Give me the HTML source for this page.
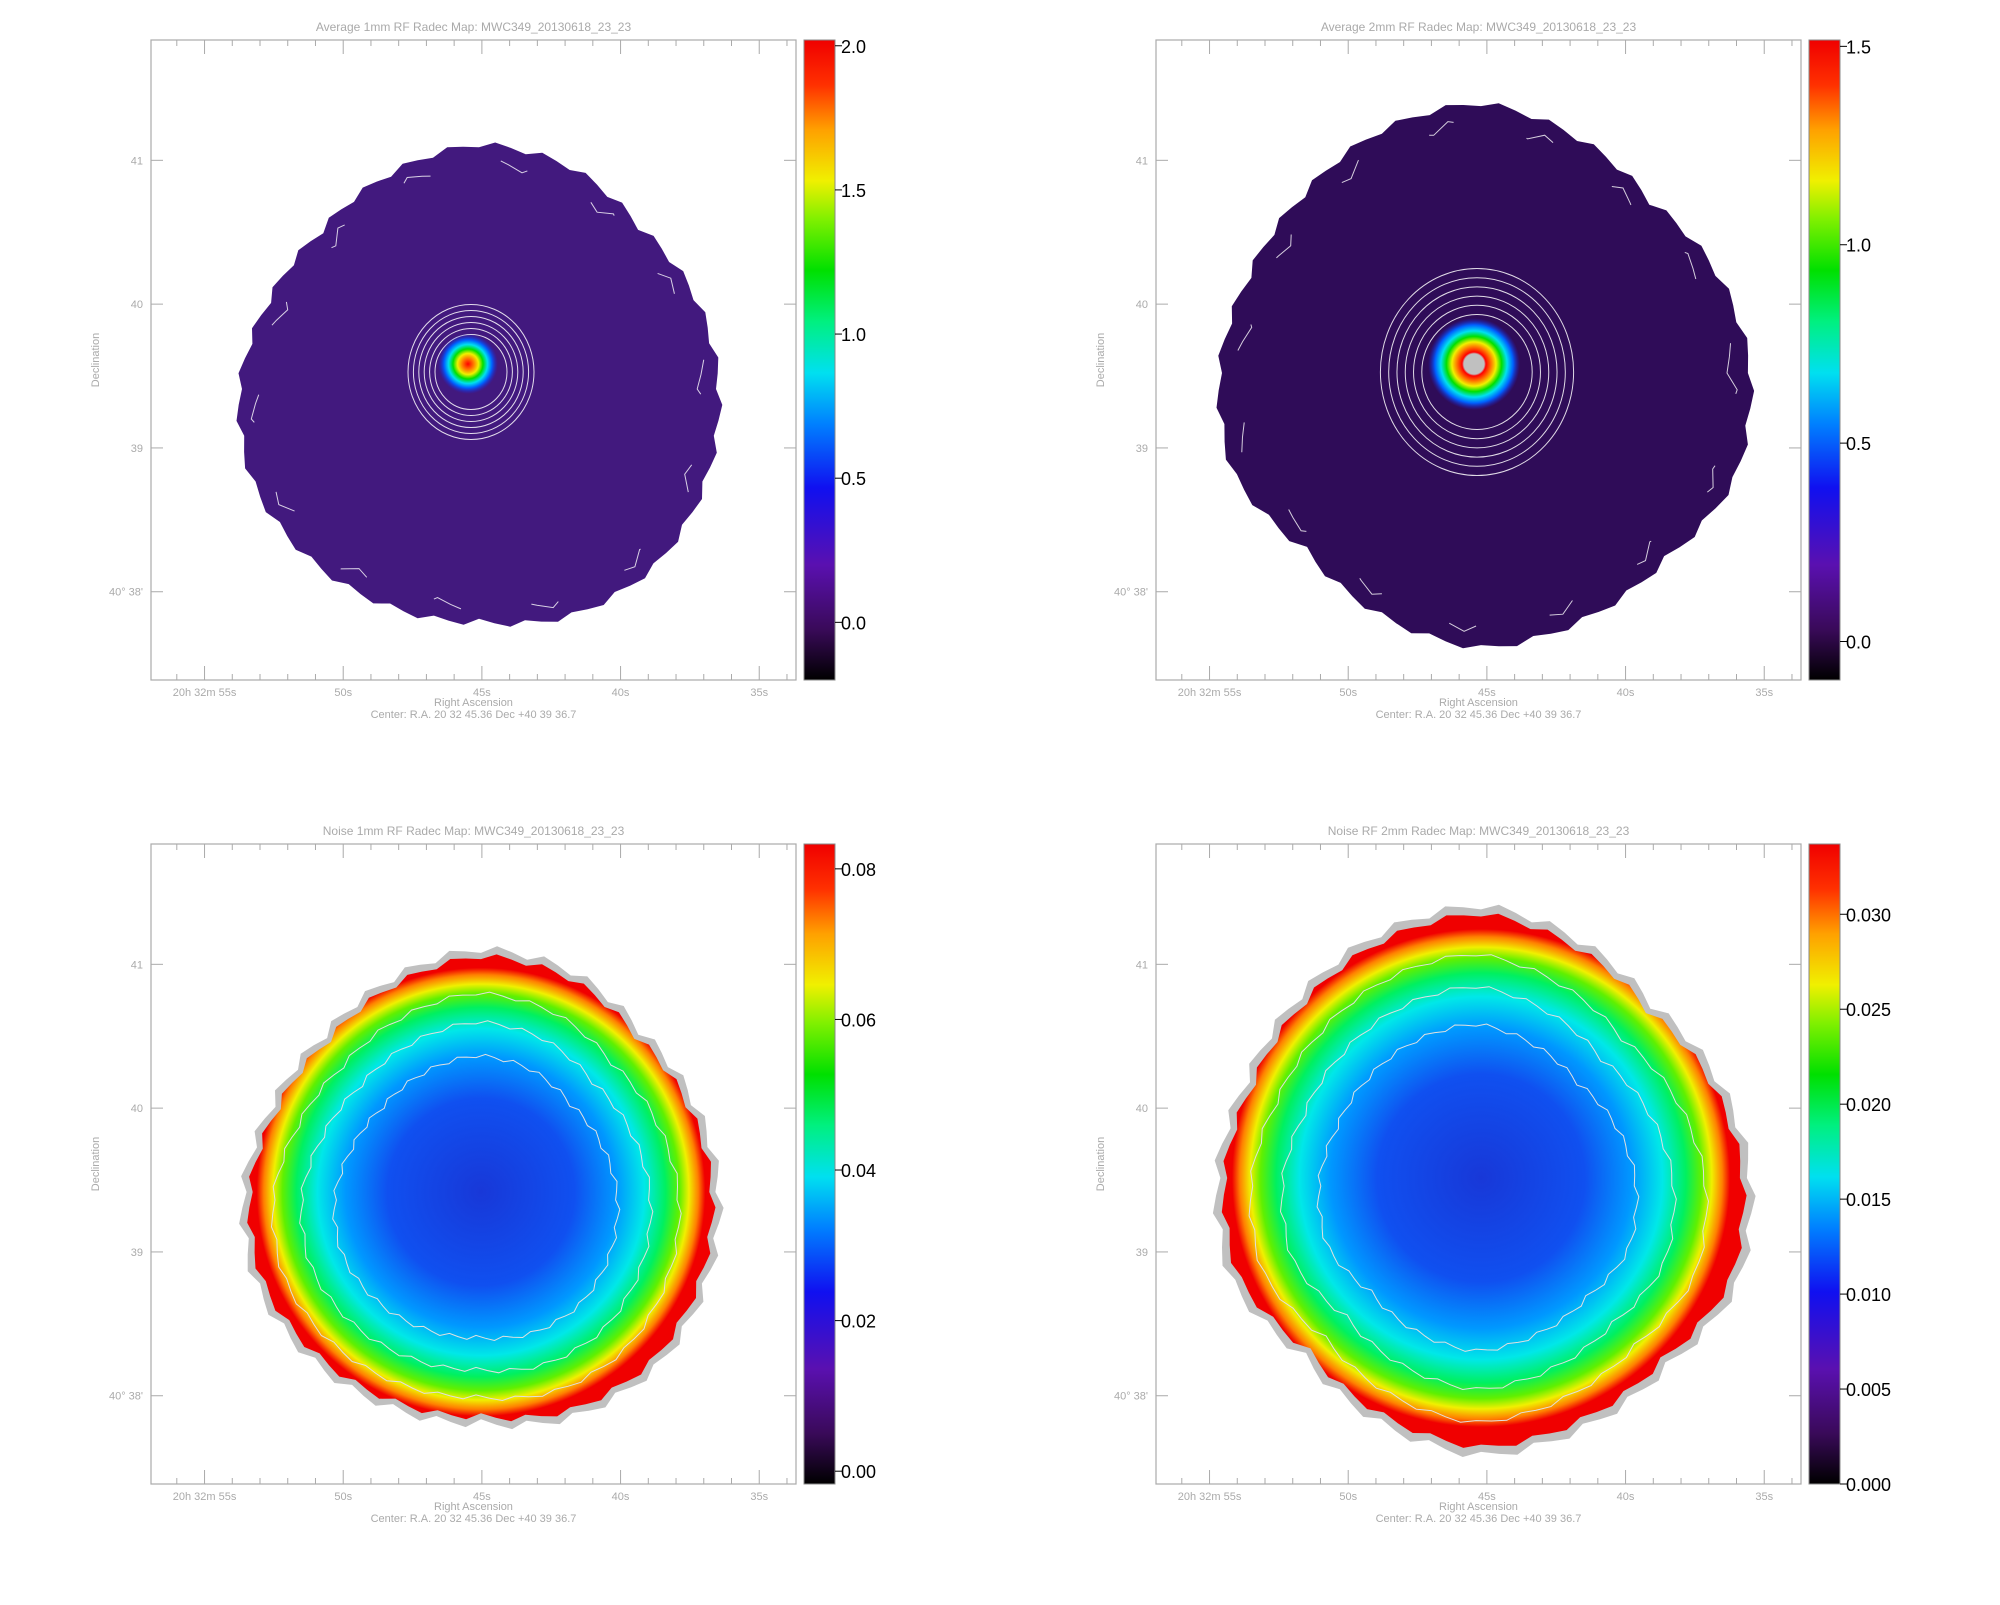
<!DOCTYPE html>
<html><head><meta charset="utf-8">
<style>
html,body{margin:0;padding:0;background:#fff;}
body{width:2000px;height:1600px;overflow:hidden;font-family:"Liberation Sans",sans-serif;}
svg text{font-family:"Liberation Sans",sans-serif;}
</style></head>
<body>
<svg id="fig" width="2000" height="1600" viewBox="0 0 2000 1600" xmlns="http://www.w3.org/2000/svg">
<defs>
<linearGradient id="rainbow" x1="0" y1="1" x2="0" y2="0">
<stop offset="0" stop-color="#000000"/><stop offset="0.08" stop-color="#3a0a5a"/>
<stop offset="0.18" stop-color="#5a10b0"/><stop offset="0.3" stop-color="#1010f0"/>
<stop offset="0.4" stop-color="#0080ff"/><stop offset="0.48" stop-color="#00e0f0"/>
<stop offset="0.56" stop-color="#00f080"/><stop offset="0.64" stop-color="#00e000"/>
<stop offset="0.72" stop-color="#80f000"/><stop offset="0.78" stop-color="#f0f000"/>
<stop offset="0.86" stop-color="#ffa000"/><stop offset="0.93" stop-color="#ff3000"/>
<stop offset="1" stop-color="#f00000"/></linearGradient>
<radialGradient id="noiseGrad">
<stop offset="0" stop-color="#1838d8"/><stop offset="0.4" stop-color="#1050f0"/>
<stop offset="0.58" stop-color="#0098ff"/><stop offset="0.7" stop-color="#00e8e8"/>
<stop offset="0.79" stop-color="#00f060"/><stop offset="0.85" stop-color="#60f000"/>
<stop offset="0.89" stop-color="#f0f000"/><stop offset="0.93" stop-color="#ff8000"/>
<stop offset="0.96" stop-color="#f00000"/><stop offset="1" stop-color="#f00000"/></radialGradient>
<radialGradient id="src1">
<stop offset="0" stop-color="#ff0000"/><stop offset="0.2" stop-color="#ff8000"/>
<stop offset="0.35" stop-color="#f0f000"/><stop offset="0.5" stop-color="#00e000"/>
<stop offset="0.65" stop-color="#00e0f0"/><stop offset="0.8" stop-color="#0060ff"/>
<stop offset="1" stop-color="#2020d0" stop-opacity="0"/></radialGradient>
<radialGradient id="src2">
<stop offset="0" stop-color="#c0c0c0"/><stop offset="0.22" stop-color="#c0c0c0"/>
<stop offset="0.26" stop-color="#ff0000"/><stop offset="0.38" stop-color="#ff8000"/>
<stop offset="0.48" stop-color="#f0f000"/><stop offset="0.6" stop-color="#00e000"/>
<stop offset="0.72" stop-color="#00e0f0"/><stop offset="0.85" stop-color="#0060ff"/>
<stop offset="1" stop-color="#2020d0" stop-opacity="0"/></radialGradient>
</defs>
</svg>
<script>
// Colorbar tick values per panel
const ticksAvg1 = [0.0, 0.5, 1.0, 1.5, 2.0];
const ticksAvg2 = [0.0, 0.5, 1.0, 1.5];
const ticksNoise1 = [0.00, 0.02, 0.04, 0.06, 0.08];
const ticksNoise2 = [0.000, 0.005, 0.010, 0.015, 0.020, 0.025, 0.030];
const rangeAvg1 = [-0.2, 2.02];
const rangeAvg2 = [-0.097, 1.516];
const rangeNoise1 = [-0.0017, 0.0833];
const rangeNoise2 = [0.0, 0.0337];
// Axis tick values
const decTicks = [41, 40, 39, 38];
const decLabels = ["41", "40", "39", "40\u00B0 38'"];
const raTicks = [55, 50, 45, 40, 35];
const raLabels = ["20h 32m 55s", "50s", "45s", "40s", "35s"];
// Blob radius profiles (relative), 16 angles
const shapeAvg1 = [1.0,0.98,0.95,1.0,1.02,0.97,0.93,0.95,1.0,1.02,1.0,0.98,0.97,1.02,1.04,1.02];
const shapeAvg2 = [1.03,0.98,0.92,0.97,1.03,1.0,0.96,0.96,1.0,1.02,0.95,1.0,1.05,1.02,1.0,1.05];
const shapeNoise1 = [1.0,0.97,0.95,1.0,1.02,0.97,0.93,0.95,1.0,1.02,1.0,0.98,0.97,1.02,1.04,1.02];
const shapeNoise2 = [1.02,0.97,0.92,0.97,1.03,1.0,0.97,0.96,1.0,1.02,0.95,1.0,1.05,1.02,1.0,1.05];

const NS = "http://www.w3.org/2000/svg";
const fig = document.getElementById('fig');
function mk(tag, attrs, parent){const e=document.createElementNS(NS,tag);for(const k in attrs)e.setAttribute(k,attrs[k]);(parent||fig).appendChild(e);return e;}
function blobPath(cx,cy,r,shape,jit){
  let d="";const n=shape.length*6;
  for(let i=0;i<n;i++){const a=i/n*2*Math.PI;const f=i/6;const i0=Math.floor(f)%shape.length,i1=(i0+1)%shape.length;const t=f-Math.floor(f);
    let rr=r*(shape[i0]*(1-t)+shape[i1]*t)+((i%3)-1)*jit;
    d+=(i?"L":"M")+(cx+rr*Math.cos(a)).toFixed(1)+","+(cy-rr*Math.sin(a)).toFixed(1);}
  return d+"Z";}

const panels = [
 {name:"avg-1mm",x:151,y:40,title:"Average 1mm RF Radec Map: MWC349_20130618_23_23",ticks:ticksAvg1,range:rangeAvg1,dec:1,type:"avg",cx:479,cy:389,r:240,shape:shapeAvg1,fill:"#42197e",sx:468,sy:364,sr:30,src:"src1"},
 {name:"avg-2mm",x:1156,y:40,title:"Average 2mm RF Radec Map: MWC349_20130618_23_23",ticks:ticksAvg2,range:rangeAvg2,dec:1,type:"avg",cx:1481,cy:373,r:262,shape:shapeAvg2,fill:"#2f0c58",sx:1474,sy:364,sr:46,src:"src2"},
 {name:"noise-1mm",x:151,y:844,title:"Noise 1mm RF Radec Map: MWC349_20130618_23_23",ticks:ticksNoise1,range:rangeNoise1,dec:2,type:"noise",cx:481,cy:1192,r:236,shape:shapeNoise1},
 {name:"noise-2mm",x:1156,y:844,title:"Noise RF 2mm Radec Map: MWC349_20130618_23_23",ticks:ticksNoise2,range:rangeNoise2,dec:3,type:"noise",cx:1481,cy:1178,r:262,shape:shapeNoise2}
];
const W=645,H=640;
panels.forEach(p=>{
  const g=mk('g',{});
  
  
  if(p.type==="avg"){
    const b=mk('path',{d:blobPath(p.cx,p.cy,p.r,p.shape,3),fill:p.fill},g);
    
    
    mk('path',{d:blobPath(p.cx,p.cy,p.r*0.93,p.shape,5),fill:"none",stroke:"#fff","stroke-width":1,"stroke-dasharray":"30 80",opacity:0.8},g);
    for(let k=0;k<6;k++){mk('ellipse',{cx:p.sx+3,cy:p.sy+8,rx:p.sr*(1.2+k*0.18),ry:p.sr*(1.25+k*0.2),fill:"none",stroke:"#fff","stroke-width":1,opacity:0.85},g);}
    const s=mk('circle',{cx:p.sx,cy:p.sy,r:p.sr,fill:"url(#"+p.src+")"},g);
    
    
  } else {
    mk('path',{d:blobPath(p.cx,p.cy,p.r*1.01,p.shape,4),fill:"#c0c0c0"},g);
    const gid="ng"+p.name;
    const rg=mk('radialGradient',{id:gid,gradientUnits:"userSpaceOnUse",cx:p.cx,cy:p.cy,r:p.r*0.99},fig.querySelector('defs'));
    document.getElementById('noiseGrad').querySelectorAll('stop').forEach(s=>rg.appendChild(s.cloneNode()));
    const b=mk('path',{d:blobPath(p.cx,p.cy,p.r*0.98,p.shape,3),fill:"url(#"+gid+")"},g);
    
    
    [0.6,0.74,0.86].forEach(f=>mk('path',{d:blobPath(p.cx-5,p.cy+8,p.r*f,p.shape,2),fill:"none",stroke:"#e0e0e0","stroke-width":1},g));
  }
  const fr=mk('rect',{x:p.x,y:p.y,width:W,height:H,fill:"none",stroke:"#aaa","stroke-width":1.2},g);
  
  
  const decY=d=>p.y+H*(0.188+(41-d)*0.2247);
  const raX=s=>p.x+W*(0.083+(55-s)*0.0430);
  decTicks.forEach((d,i)=>{const y=decY(d);
    mk('line',{x1:p.x,x2:p.x+12,y1:y,y2:y,stroke:"#aaa"},g);mk('line',{x1:p.x+W,x2:p.x+W-12,y1:y,y2:y,stroke:"#aaa"},g);
    const t=mk('text',{x:p.x-8,y:y+4,"text-anchor":"end","font-size":11,fill:"#aaa"},g);t.textContent=decLabels[i];
    
    
  });
  for(let s=57;s>=33;s--){const x=raX(s);if(x<p.x||x>p.x+W)continue;const L=(s%5===0)?14:6;
    mk('line',{x1:x,x2:x,y1:p.y+H,y2:p.y+H-L,stroke:"#aaa"},g);mk('line',{x1:x,x2:x,y1:p.y,y2:p.y+L,stroke:"#aaa"},g);}
  raTicks.forEach((s,i)=>{const t=mk('text',{x:raX(s),y:p.y+H+16,"text-anchor":"middle","font-size":11,fill:"#aaa"},g);t.textContent=raLabels[i];
    
    });
  const tt=mk('text',{x:p.x+W/2,y:p.y-9,"text-anchor":"middle","font-size":12,fill:"#aaa"},g);tt.textContent=p.title;
  
  
  const xl=mk('text',{x:p.x+W/2,y:p.y+H+26,"text-anchor":"middle","font-size":11,fill:"#aaa"},g);xl.textContent="Right Ascension";
  
  
  const cl=mk('text',{x:p.x+W/2,y:p.y+H+38,"text-anchor":"middle","font-size":11,fill:"#aaa"},g);cl.textContent="Center:   R.A. 20 32 45.36     Dec  +40 39 36.7";
  
  
  const yl=mk('text',{x:0,y:0,"text-anchor":"middle","font-size":11,fill:"#aaa",transform:`translate(${p.x-52},${p.y+H/2}) rotate(-90)`},g);yl.textContent="Declination";
  
  
  const cx=p.x+W+8;
  const cb=mk('rect',{x:cx,y:p.y,width:31,height:H,fill:"url(#rainbow)",stroke:"#888","stroke-width":1},g);
  
  
  const vY=v=>p.y+H*(p.range[1]-v)/(p.range[1]-p.range[0]);
  p.ticks.forEach(v=>{const y=vY(v);
    mk('line',{x1:cx+31,x2:cx+38,y1:y,y2:y,stroke:"#000"},g);
    const t=mk('text',{x:cx+37,y:y+7,"font-size":18,fill:"#000"},g);t.textContent=v.toFixed(p.dec);
    
    });
});
</script>
</body></html>
